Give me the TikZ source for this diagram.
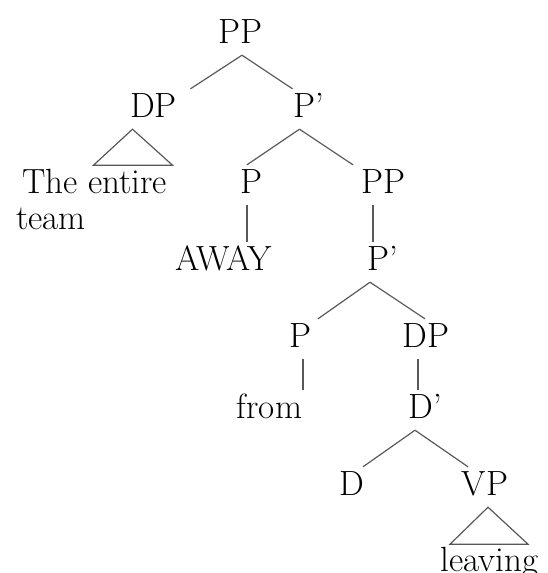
\documentclass[tikz,border=0pt]{standalone}
\usepackage{fontspec}
\usepackage{tikz}
\tikzset{
  lbl/.style={font=\fontsize{35}{36}\selectfont, inner sep=0pt, text height=28pt, text depth=12pt, anchor=base},
  branch/.style={line width=1.2pt, draw=black!65}
}
\begin{document}
\begin{tikzpicture}[x=1pt,y=1pt,yscale=-1,xscale=1]
\useasboundingbox (0,0) rectangle (548,573);
\node [lbl] (pp0) at (240,43) {PP};
\node [lbl] (dp1) at (153.5,117) {DP};
\node [lbl] (pbar1) at (308.5,117) {P'};
\node [lbl, anchor=base west] (te1) at (22,193) {The entire};
\node [lbl, anchor=base west] (te2) at (16,229) {team};
\node [lbl] (p2) at (251,193) {P};
\node [lbl] (pp2) at (383,193) {PP};
\node [lbl] (away) at (224,270) {AWAY};
\node [lbl] (pbar3) at (382.5,270) {P'};
\node [lbl] (p4) at (300,347) {P};
\node [lbl] (dp4) at (426,347) {DP};
\node [lbl] (from) at (269.5,418) {from};
\node [lbl] (dbar5) at (425,418) {D'};
\node [lbl] (d6) at (352,495) {D};
\node [lbl] (vp6) at (485,495) {VP};
\node [lbl] (leav) at (489.5,571) {leaving};
\draw [branch] ([xshift=2]pp0.south) -- ([xshift=37]dp1.north);
\draw [branch] ([xshift=2]pp0.south) -- ([xshift=-16]pbar1.north);
\draw [branch] ([xshift=-21]dp1.south) -- ++(-39,36) -- ++(79,0) -- cycle;
\draw [branch] ([xshift=-9]pbar1.south) -- ([xshift=-4]p2.north);
\draw [branch] ([xshift=-9]pbar1.south) -- ([xshift=-30]pp2.north);
\draw [branch] ([xshift=-4]p2.south) -- ([xshift=23]away.north);
\draw [branch] ([xshift=-10]pp2.south) -- ([xshift=-9.5]pbar3.north);
\draw [branch] ([xshift=-12.5]pbar3.south) -- ([xshift=18]p4.north);
\draw [branch] ([xshift=-12.5]pbar3.south) -- ([xshift=-1]dp4.north);
\draw [branch] ([xshift=3]p4.south) -- ([xshift=33.5]from.north);
\draw [branch] ([xshift=-8]dp4.south) -- ([xshift=-7]dbar5.north);
\draw [branch] ([xshift=-10]dbar5.south) -- ([xshift=11]d6.north);
\draw [branch] ([xshift=-10]dbar5.south) -- ([xshift=-17]vp6.north);
\draw [branch] ([xshift=3]vp6.south) -- ++(-38,37) -- ++(78,0) -- cycle;
\end{tikzpicture}
\end{document}
